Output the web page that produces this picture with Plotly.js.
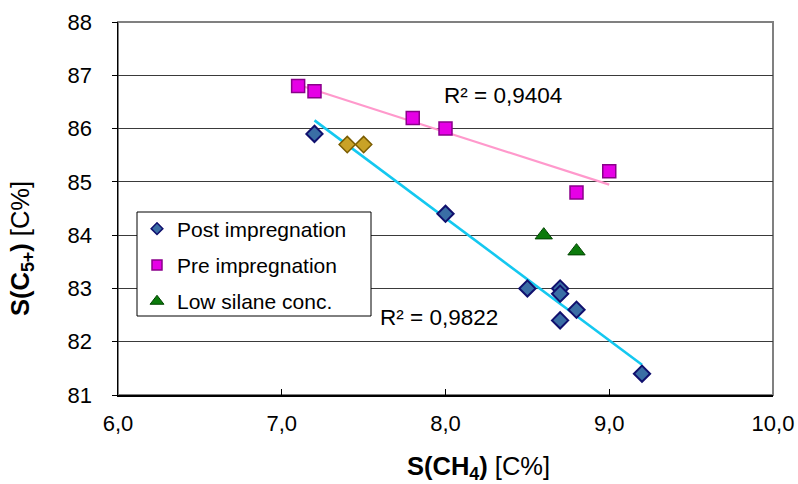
<!DOCTYPE html>
<html><head><meta charset="utf-8">
<script src="https://cdn.plot.ly/plotly-3.0.1.min.js"></script>
<style>html,body{margin:0;padding:0;background:#fff}#chart{width:798px;height:484px}</style>
</head><body><div id="chart"></div>
<script>
// Data
const postX = [7.2, 8.0, 8.5, 8.7, 8.7, 8.8, 8.7, 9.2];
const postY = [85.9, 84.4, 83.0, 83.0, 82.9, 82.6, 82.4, 81.4];
const postGoldX = [7.4, 7.5];          // same series, differently coloured points
const postGoldY = [85.7, 85.7];
const preX = [7.1, 7.2, 7.8, 8.0, 9.0, 8.8];
const preY = [86.8, 86.7, 86.2, 86.0, 85.2, 84.8];
const lowX = [8.6, 8.8];
const lowY = [84.0, 83.7];
const seriesNames = ['Post impregnation', 'Pre impregnation', 'Low silane conc.'];
const r2Pre = "R² = 0,9404";
const r2Post = "R² = 0,9822";
const xTitle = '<b>S(CH<sub>4</sub>)</b> [C%]';
const yTitle = '<b>S(C<sub>5+</sub>)</b> [C%]';

function fit(xs, ys) {
  const n = xs.length;
  const mx = xs.reduce((a,b)=>a+b,0)/n, my = ys.reduce((a,b)=>a+b,0)/n;
  let sxy=0, sxx=0;
  for (let i=0;i<n;i++){ sxy+=(xs[i]-mx)*(ys[i]-my); sxx+=(xs[i]-mx)**2; }
  const b = sxy/sxx, a = my - b*mx;
  const x0 = Math.min(...xs), x1 = Math.max(...xs);
  return {x:[x0,x1], y:[a+b*x0, a+b*x1]};
}
const fPost = fit(postX.concat(postGoldX), postY.concat(postGoldY));
const fPre = fit(preX, preY);

const mPost = {symbol:'diamond', color:'#3A6EA5', line:{color:'#10106E', width:2}};
const mPre = {symbol:'square', color:'#E600E6', line:{color:'#8A008A', width:1.5}};
const mLow = {symbol:'triangle-up', color:'#0B7A0B', line:{color:'#004400', width:1}};

const traces = [
  {x: fPre.x, y: fPre.y, mode:'lines', line:{color:'#FF99CC', width:2.2}, showlegend:false, hoverinfo:'skip'},
  {x: fPost.x, y: fPost.y, mode:'lines', line:{color:'#14C8F0', width:2.6}, showlegend:false, hoverinfo:'skip'},
  {x: postGoldX, y: postGoldY, mode:'markers', showlegend:false,
   marker:{symbol:'diamond', size:12.5, color:'#C9A227', line:{color:'#7A5C00', width:1.5}}},
  {x: postX, y: postY, mode:'markers', showlegend:false, marker:Object.assign({size:12.5}, mPost)},
  {x: preX, y: preY, mode:'markers', showlegend:false, marker:Object.assign({size:13}, mPre)},
  {x: lowX, y: lowY, mode:'markers', showlegend:false, marker:Object.assign({size:15}, mLow)},
  // legend entries (smaller symbols, as in the reference legend)
  {x:[null], y:[null], mode:'markers', name:seriesNames[0], legendgroup:'a', marker:Object.assign({size:9}, mPost, {line:{color:'#10106E', width:1.5}})},
  {x:[null], y:[null], mode:'markers', name:seriesNames[1], legendgroup:'b', marker:Object.assign({size:10}, mPre)},
  {x:[null], y:[null], mode:'markers', name:seriesNames[2], legendgroup:'c', marker:Object.assign({size:12}, mLow)}
];

function py(px){ return (395-px)/373; }
function pxx(px){ return (px-118)/655; }

const layout = {
  width:798, height:484,
  margin:{l:118, r:25, t:22, b:89},
  paper_bgcolor:'#fff', plot_bgcolor:'#fff',
  separators:', ',
  font:{family:'Arial, "Liberation Sans", sans-serif', color:'#000', size:22},
  xaxis:{range:[6,10], dtick:1, tick0:6, tickformat:'.1f', showgrid:false, zeroline:false,
    ticks:'inside', ticklen:6, tickcolor:'#000', showline:true, linecolor:'#000', linewidth:1.5,
    tickfont:{size:22}, ticklabelstandoff:8},
  yaxis:{range:[81,88], dtick:1, tick0:81, showgrid:true, gridcolor:'#3a3a3a', gridwidth:1, zeroline:false,
    ticks:'outside', ticklen:5, tickcolor:'#000', showline:true, linecolor:'#000', linewidth:1.5,
    tickfont:{size:22}, ticklabelstandoff:15},
  shapes:[
    {type:'rect', xref:'paper', yref:'paper', x0:0, x1:1, y0:0, y1:1, line:{color:'#808080', width:2}, layer:'below'},
    {type:'rect', xref:'paper', yref:'paper', x0:pxx(137), x1:pxx(371), y0:py(212), y1:py(316),
     line:{color:'#000', width:1}, fillcolor:'#fff', layer:'above'}
  ],
  legend:{x:pxx(137), y:py(208.5), xanchor:'left', yanchor:'top', borderwidth:0,
    bgcolor:'rgba(0,0,0,0)', font:{size:21}, traceorder:'grouped', tracegroupgap:6, itemwidth:30},
  annotations:[
    {x:7.98, y:86.62, xref:'x', yref:'y', text:r2Pre, showarrow:false, xanchor:'left', yanchor:'middle', font:{size:22.5}},
    {x:7.59, y:82.46, xref:'x', yref:'y', text:r2Post, showarrow:false, xanchor:'left', yanchor:'middle', font:{size:22.5}},
    {x:0.551, y:-0.196, xref:'paper', yref:'paper', text:xTitle, showarrow:false, xanchor:'center', yanchor:'middle', font:{size:25.5}},
    {x:-0.1466, y:0.394, xref:'paper', yref:'paper', text:yTitle, showarrow:false, xanchor:'center', yanchor:'middle', textangle:-90, font:{size:25.5}}
  ]
};
Plotly.newPlot('chart', traces, layout, {displayModeBar:false, staticPlot:true});
</script></body></html>
